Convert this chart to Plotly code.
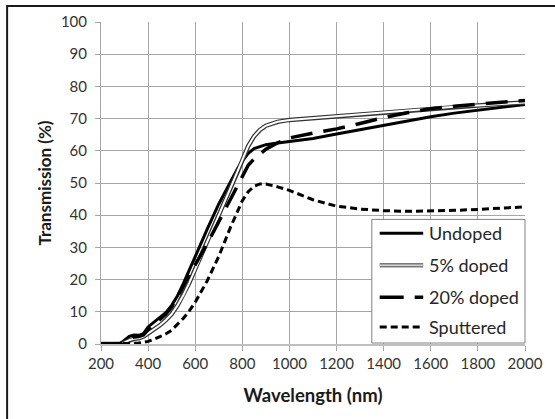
import plotly.graph_objects as go

wavelength = [200, 250, 280, 300, 320, 340, 360, 380, 400, 425, 450, 475, 500, 525, 550, 575,
              600, 650, 700, 750, 780, 800, 825, 850, 875, 900, 950, 1000, 1100, 1200, 1300,
              1400, 1500, 1600, 1700, 1800, 1900, 2000]

undoped = [0, 0, 0, 1.2, 2.4, 2.8, 2.7, 3.2, 5.3, 6.8, 8.2, 9.7, 12.0, 15.0, 18.8, 23.0,
           27.3, 35.5, 43.5, 50.5, 54.5, 56.8, 59.2, 60.7, 61.4, 61.9, 62.4, 62.8, 63.8, 65.2, 66.6,
           67.8, 69.3, 70.6, 71.7, 72.6, 73.5, 74.4]

doped5 = [0, 0, 0, 0.5, 1.2, 1.6, 1.8, 2.3, 3.3, 4.5, 5.8, 7.4, 9.3, 12.0, 15.2, 19.0,
          23.3, 31.5, 40.0, 48.5, 53.5, 57.0, 61.5, 64.5, 66.5, 67.8, 69.0, 69.6, 70.2, 70.7, 71.2,
          71.8, 72.5, 73.2, 73.7, 74.1, 74.6, 75.0]

doped20 = [0, 0, 0, 0.8, 1.6, 2.2, 2.3, 2.8, 4.5, 6.0, 7.5, 9.2, 11.5, 14.5, 18.0, 21.5,
           24.5, 31.0, 38.0, 45.0, 49.5, 52.5, 55.5, 57.5, 59.0, 60.5, 62.5, 64.0, 65.5, 66.8, 68.5,
           70.3, 71.8, 73.1, 73.8, 74.5, 75.1, 75.6]

sputtered = [0, 0, 0, 0, 0.1, 0.2, 0.3, 0.5, 0.8, 1.5, 2.2, 3.1, 4.3, 6.0, 8.0, 10.3,
             13.0, 19.5, 27.2, 36.3, 41.5, 44.5, 47.3, 49.0, 49.7, 49.7, 48.8, 47.7, 44.8, 42.8, 41.9,
             41.4, 41.2, 41.3, 41.5, 41.8, 42.2, 42.6]

series_names = ["Undoped", "5% doped", "20% doped", "Sputtered"]
x_ticks = [200, 400, 600, 800, 1000, 1200, 1400, 1600, 1800, 2000]
y_ticks = [0, 10, 20, 30, 40, 50, 60, 70, 80, 90, 100]

FONT = "Lato"
fig = go.Figure()

fig.add_trace(go.Scatter(x=wavelength, y=undoped, mode="lines",
                         line=dict(color="black", width=3), showlegend=False))
fig.add_trace(go.Scatter(x=wavelength, y=doped5, mode="lines",
                         line=dict(color="#333333", width=4.5), showlegend=False))
fig.add_trace(go.Scatter(x=wavelength, y=doped5, mode="lines",
                         line=dict(color="white", width=2), showlegend=False))
fig.add_trace(go.Scatter(x=wavelength, y=doped20, mode="lines",
                         line=dict(color="black", width=3.5, dash="22px,11px"), showlegend=False))
fig.add_trace(go.Scatter(x=wavelength, y=sputtered, mode="lines",
                         line=dict(color="black", width=3, dash="7px,4px"), showlegend=False))

# plot area in pixels: x 101..530, y 21..344
L, R, T, B = 101, 530, 21, 344
def px(xp):
    return (xp - L) / (R - L)
def py(yp):
    return (B - yp) / (B - T)

shapes = []
# outer chart border
shapes.append(dict(type="rect", xref="paper", yref="paper",
                   x0=px(6), x1=px(565), y0=py(430), y1=py(5),
                   line=dict(color="#1a1a1a", width=2), fillcolor="rgba(0,0,0,0)", layer="below"))
# legend box
shapes.append(dict(type="rect", xref="paper", yref="paper",
                   x0=px(375), x1=px(530), y0=py(343), y1=py(219),
                   line=dict(color="#808080", width=1), fillcolor="white", layer="above"))

rows = [233, 265, 297, 327]
sx0, sx1 = px(383), px(427)
styles = [
    [dict(color="black", width=3, dash="solid")],
    [dict(color="#7a7a7a", width=4.5, dash="solid"), dict(color="#d0d0d0", width=1.5, dash="solid")],
    [dict(color="black", width=3.5, dash="24px,11px")],
    [dict(color="black", width=3, dash="7px,4px")],
]
annotations = []
for name, ry, st in zip(series_names, rows, styles):
    for s in st:
        shapes.append(dict(type="line", xref="paper", yref="paper",
                           x0=sx0, x1=sx1, y0=py(ry), y1=py(ry), line=s, layer="above"))
    annotations.append(dict(text=name, xref="paper", yref="paper", x=px(431), y=py(ry),
                            xanchor="left", yanchor="middle", showarrow=False,
                            font=dict(family=FONT, size=18, color="#262626")))

fig.update_layout(
    width=555, height=419,
    margin=dict(l=L, r=555 - R, t=T, b=419 - B),
    paper_bgcolor="white", plot_bgcolor="white",
    shapes=shapes, annotations=annotations,
    showlegend=False,
    font=dict(family=FONT, size=15, color="#333333"),
)
fig.update_xaxes(
    range=[200, 2000], tickvals=x_ticks, ticktext=[str(v) for v in x_ticks],
    showgrid=True, gridcolor="#a6a6a6", gridwidth=1,
    showline=True, linecolor="#bfbfbf", linewidth=2,
    ticks="outside", ticklen=5, tickcolor="#a6a6a6",
    zeroline=False,
    tickfont=dict(family=FONT, size=15, color="#333333"),
    title=dict(text="<b>Wavelength (nm)</b>", font=dict(family=FONT, size=18.5, color="#1a1a1a"), standoff=18),
)
fig.update_yaxes(
    range=[0, 100], tickvals=y_ticks, ticktext=[str(v) for v in y_ticks],
    showgrid=True, gridcolor="#a6a6a6", gridwidth=1,
    showline=True, linecolor="#a6a6a6", linewidth=1,
    ticks="outside", ticklen=5, tickcolor="#a6a6a6",
    ticklabelstandoff=5,
    zeroline=False,
    tickfont=dict(family=FONT, size=15, color="#333333"),
    title=dict(text="<b>Transmission (%)</b>", font=dict(family=FONT, size=17, color="#1a1a1a"), standoff=4),
)

fig.write_html("out.html", config={"displayModeBar": False},
               post_script="document.body.style.margin='0px';")
